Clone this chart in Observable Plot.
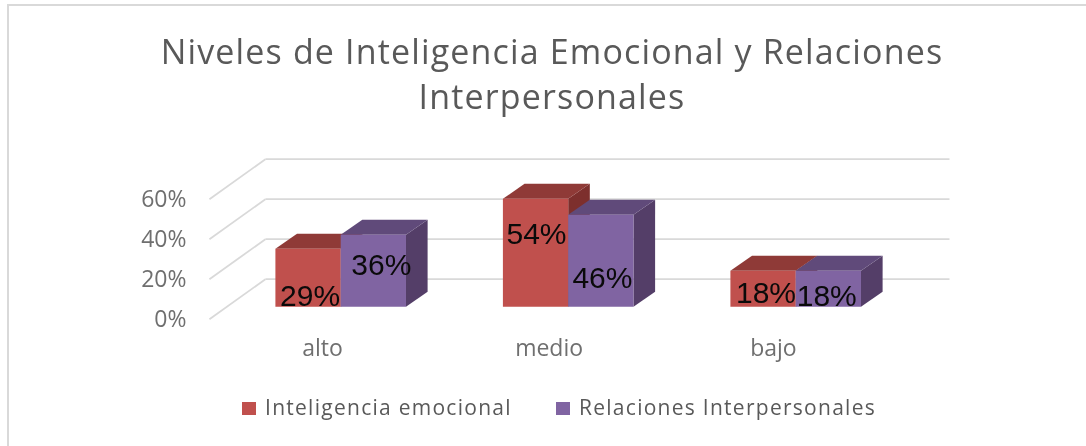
<!DOCTYPE html>
<html lang="es">
<head>
<meta charset="utf-8">
<script src="https://cdn.jsdelivr.net/npm/d3@7"></script>
<script src="https://cdn.jsdelivr.net/npm/@observablehq/plot@0.6"></script>
<style>
  html, body { margin: 0; padding: 0; background: #fff; }
  #frame { position: relative; width: 1086px; height: 446px; overflow: hidden; font-family: "Open Sans", sans-serif; filter: blur(0.35px); }
  #border { position: absolute; left: 6.5px; top: 3.5px; right: -10px; bottom: -10px; border: 2.5px solid #d9d9d9; }
  #title { position: absolute; left: 0; width: 1104px; top: 29px; text-align: center; font-size: 34px; line-height: 45px; color: #595959; letter-spacing: 1.15px; }
  #chart { position: absolute; left: 0; top: 130px; }
  #legend { position: absolute; left: 0; top: 392px; width: 1086px; font-size: 21px; color: #595959; letter-spacing: 1.27px; line-height: 30px; }
  #legend span { position: absolute; white-space: nowrap; }
  #legend i { position: absolute; width: 14px; height: 13px; top: 10px; }
</style>
</head>
<body>
<div id="frame">
  <div id="border"></div>
  <div id="title">Niveles de Inteligencia Emocional y Relaciones<br>Interpersonales</div>
  <div id="chart"></div>
  <div id="legend"></div>
</div>
<script>
const categories = ["alto", "medio", "bajo"];
const seriesNames = ["Inteligencia emocional", "Relaciones Interpersonales"];
const emocional = [29, 54, 18];
const relaciones = [36, 46, 18];
const yTicks = [0, 20, 40, 60];

// drawing constants for the fake 3D projection (in scale units)
const floorDx = 0.246, floorDy = 20;     // depth of the floor / wall
const planeDx = 0.08, planeDy = 6.2;     // plane where the bars stand
const barW = 0.287, barDx = 0.095, barDy = 7.5; // bar width and depth
const palette = [
  {front: "#c0504d", top: "#8f3a37", side: "#7d2f2d"},
  {front: "#8064a2", top: "#604a7a", side: "#543e68"}
];
const seriesValues = [emocional, relaciones];

function poly(id, pts) { return pts.map(([x, y]) => ({id, x, y})); }
function faces(values, s) {
  const front = [], top = [], side = [];
  values.forEach((v, i) => {
    const x0 = i + planeDx + (s - 1) * barW, x1 = x0 + barW;
    const y0 = planeDy, y1 = planeDy + v;
    front.push(...poly(i, [[x0, y0], [x1, y0], [x1, y1], [x0, y1]]));
    top.push(...poly(i, [[x0, y1], [x1, y1], [x1 + barDx, y1 + barDy], [x0 + barDx, y1 + barDy]]));
    side.push(...poly(i, [[x1, y0], [x1 + barDx, y0 + barDy], [x1 + barDx, y1 + barDy], [x1, y1]]));
  });
  return {front, top, side};
}
const barMarks = seriesValues.flatMap((vals, s) => {
  const f = faces(vals, s), c = palette[s];
  return ["side", "top", "front"].map(k =>
    Plot.line(f[k], {x: "x", y: "y", z: "id", fill: c[k], stroke: "none", curve: "linear"}));
});

// data labels: the source places them freely inside the bars
const labelNudge = [
  [[0.009, -23.7], [0.004, -17.85], [0.013, -11.35]],
  [[0.035, -15.2], [0.007, -31.6], [-0.007, -12.85]]
];
const labels = seriesValues.flatMap((vals, s) => vals.map((v, i) => {
  const [nx, ny] = labelNudge[s][i];
  return {x: i + planeDx + (s - 0.5) * barW + nx, y: planeDy + v + ny, t: v + "%"};
}));

// category labels sit slightly off the bar spacing in the source
const categoryNudge = [0, -0.004, -0.018];
const categoryLabels = categories.map((t, i) => ({x: i + categoryNudge[i], y: -14.65, t}));

const gridFloor = yTicks.map(v => ({x1: -0.497, y1: v, x2: -0.497 + floorDx, y2: v + floorDy}));
const gridBack = yTicks.map(v => ({x1: -0.497 + floorDx, y1: v + floorDy, x2: 2.756, y2: v + floorDy}));

const plot = Plot.plot({
  width: 1086, height: 240,
  marginTop: 0, marginBottom: 30, marginLeft: 191, marginRight: 0,
  style: {fontFamily: '"Open Sans", sans-serif', background: "transparent", overflow: "visible"},
  x: {type: "linear", domain: [0, 2], range: [322, 777], axis: null},
  y: {domain: [0, 60], range: [188.7, 68.7], axis: null},
  marks: [
    Plot.link(gridFloor, {x1: "x1", y1: "y1", x2: "x2", y2: "y2", stroke: "#d9d9d9", strokeWidth: 1.8}),
    Plot.link(gridBack, {x1: "x1", y1: "y1", x2: "x2", y2: "y2", stroke: "#d9d9d9", strokeWidth: 1.8}),
    ...barMarks,
    Plot.text(labels, {x: "x", y: "y", text: "t", fill: "#0a0a0a", fontSize: 30, fontFamily: '"Liberation Sans", Arial, sans-serif'}),
    Plot.axisY({ticks: yTicks, tickSize: 0, tickPadding: 5, tickFormat: d => d + "%", fontSize: 23, color: "#6f6f6f", label: null}),
    Plot.text(categoryLabels, {x: "x", y: "y", text: "t", fill: "#6f6f6f", fontSize: 23})
  ]
});
document.getElementById("chart").appendChild(plot);

const legend = document.getElementById("legend");
const legendX = [[242, 265], [556, 579]];
seriesNames.forEach((n, s) => {
  const sq = document.createElement("i");
  sq.style.left = legendX[s][0] + "px";
  sq.style.background = palette[s].front;
  const sp = document.createElement("span");
  sp.style.left = legendX[s][1] + "px";
  sp.textContent = n;
  legend.append(sq, sp);
});
</script>
</body>
</html>
